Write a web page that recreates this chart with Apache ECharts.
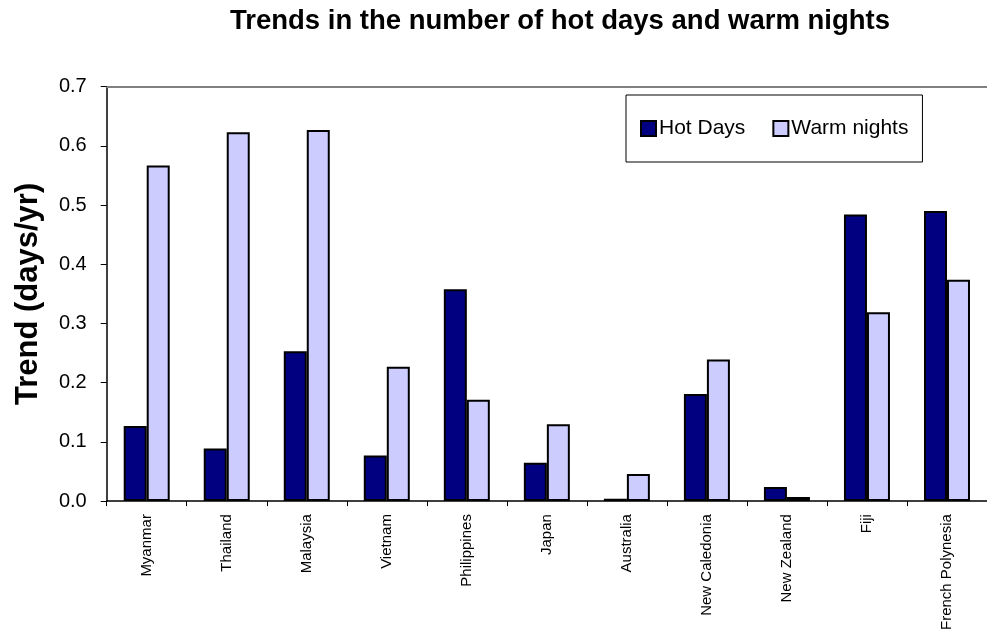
<!DOCTYPE html>
<html>
<head>
<meta charset="utf-8">
<script src="https://cdn.jsdelivr.net/npm/echarts@6/dist/echarts.min.js"></script>
<style>
  html, body { margin: 0; padding: 0; background: #ffffff; }
  #chart { width: 987px; height: 633px; }
</style>
</head>
<body>
<div id="chart"></div>
<script>
// Trend values in days per year, one entry per country
const countries = ['Myanmar', 'Thailand', 'Malaysia', 'Vietnam', 'Philippines', 'Japan',
  'Australia', 'New Caledonia', 'New Zealand', 'Fiji', 'French Polynesia'];
const hotDays = [0.127, 0.089, 0.253, 0.077, 0.358, 0.065, 0.004, 0.181, 0.024, 0.484, 0.490];
const warmNights = [0.567, 0.623, 0.627, 0.227, 0.171, 0.130, 0.046, 0.239, 0.007, 0.319, 0.374];
const seriesNames = ['Hot Days', 'Warm nights'];

const FONT = '"Liberation Sans", Arial, Helvetica, sans-serif';

const chart = echarts.init(document.getElementById('chart'), null, { renderer: 'canvas' });

chart.setOption({
  backgroundColor: '#ffffff',
  animation: false,
  textStyle: { fontFamily: FONT, color: '#000000' },
  title: {
    text: 'Trends in the number of hot days and warm nights',
    left: 555,
    textAlign: 'center',
    top: 2,
    textStyle: { fontFamily: FONT, fontSize: 27.5, fontWeight: 'bold', color: '#000000' }
  },
  legend: {
    data: seriesNames,
    left: 626,
    top: 95,
    orient: 'horizontal',
    padding: [23, 14],
    itemGap: 27,
    itemWidth: 15,
    itemHeight: 15,
    icon: 'rect',
    borderColor: '#000000',
    borderWidth: 1,
    backgroundColor: '#ffffff',
    textStyle: { fontFamily: FONT, fontSize: 21, color: '#000000', padding: [0, 0, 0, -2] }
  },
  grid: {
    left: 106.7,
    top: 86.7,
    right: 0,
    bottom: 129.5,
    containLabel: false
  },
  xAxis: [
    {
      type: 'category',
      data: countries,
      position: 'bottom',
      axisLine: { lineStyle: { color: '#000000', width: 1.5 } },
      axisTick: { show: true, length: 5, lineStyle: { color: '#000000', width: 1 } },
      axisLabel: {
        interval: 0,
        rotate: 90,
        margin: 13,
        fontFamily: FONT,
        fontSize: 15,
        color: '#000000'
      },
      splitLine: { show: false }
    },
    {
      // frame line along the top edge of the plot
      type: 'category',
      data: countries,
      position: 'top',
      axisLine: { lineStyle: { color: '#808080', width: 2 } },
      axisTick: { show: false },
      axisLabel: { show: false },
      splitLine: { show: false }
    }
  ],
  yAxis: {
    type: 'value',
    min: 0,
    max: 0.7,
    interval: 0.1,
    name: 'Trend (days/yr)',
    nameLocation: 'middle',
    nameRotate: 90,
    nameGap: 63,
    nameTextStyle: { fontFamily: FONT, fontSize: 31, fontWeight: 'bold', color: '#000000' },
    axisLine: { show: true, lineStyle: { color: '#000000', width: 1.5 } },
    axisTick: { show: true, inside: false, length: 6, lineStyle: { color: '#000000', width: 1 } },
    axisLabel: {
      margin: 20,
      fontFamily: FONT,
      fontSize: 20,
      color: '#000000',
      formatter: (v) => v.toFixed(1)
    },
    splitLine: { show: false }
  },
  series: [
    {
      name: seriesNames[0],
      type: 'bar',
      xAxisIndex: 0,
      data: hotDays,
      barWidth: 23,
      barGap: '0%',
      itemStyle: { color: '#000080', borderColor: '#000000', borderWidth: 2 }
    },
    {
      name: seriesNames[1],
      type: 'bar',
      xAxisIndex: 0,
      data: warmNights,
      barWidth: 23,
      barGap: '0%',
      itemStyle: { color: '#CCCCFF', borderColor: '#000000', borderWidth: 2 }
    }
  ]
});
</script>
</body>
</html>
